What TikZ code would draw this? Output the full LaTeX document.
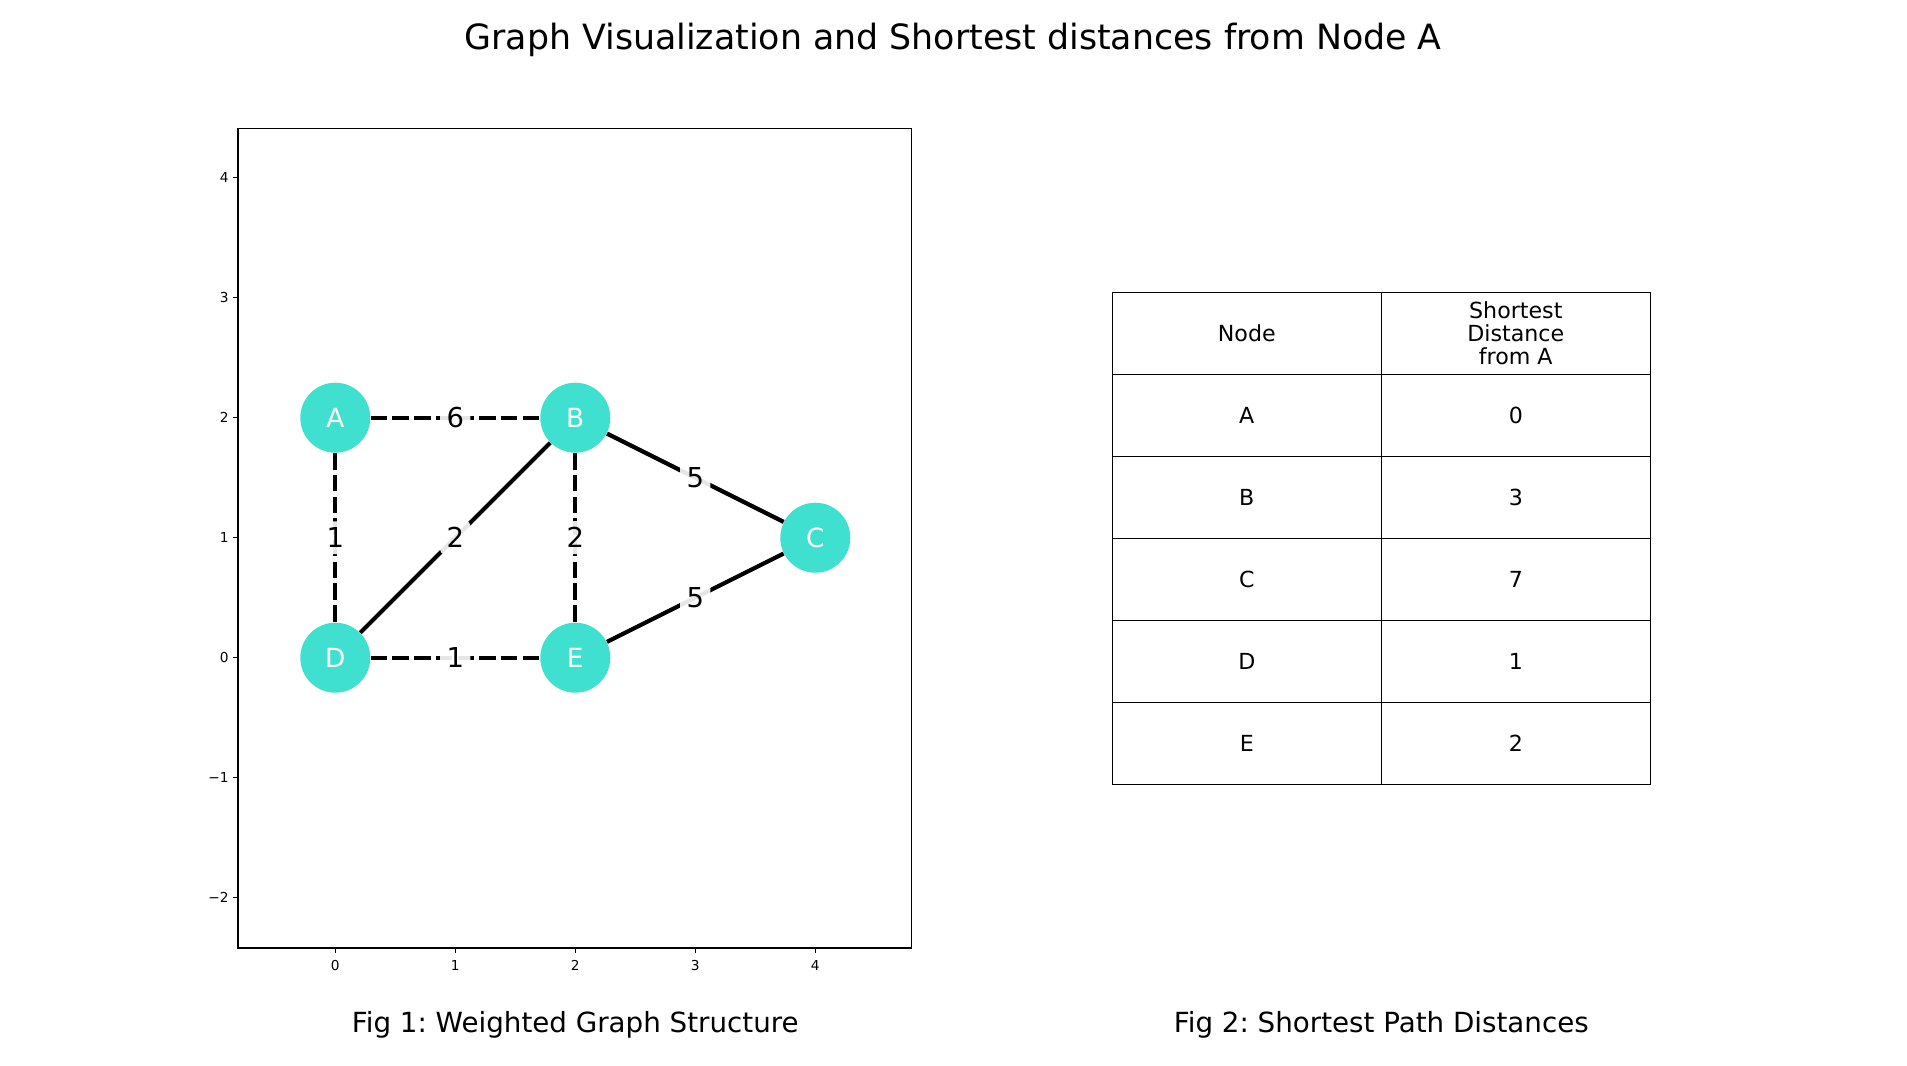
\documentclass[tikz,border=0pt]{standalone}
\usepackage{fontspec}
\setmainfont{DejaVu Sans}
\usepackage{tkz-euclide}
\definecolor{turq}{HTML}{40E0D0}
\frenchspacing

\tikzset{
  vertex/.style={circle, fill=turq, minimum size=1.167cm, inner sep=0pt,
    text=white, font=\fontsize{12.5}{14}\selectfont},
  edgeline/.style={line width=2pt, black},
  dashedge/.style={edgeline, dash pattern=on 7.8pt off 2.5pt},
  wlabel/.style={fill=white, fill opacity=0.9, text opacity=1, rounded corners=2pt,
    inner sep=3pt, font=\fontsize{13}{15}\selectfont},
  axisframe/.style={line width=0.6pt, black},
  ticklab/.style={font=\fontsize{6.5}{8}\selectfont, inner sep=0pt},
  cell/.style={draw, line width=0.6pt, minimum width=4.483cm, minimum height=1.367cm,
    inner sep=0pt, align=center, font=\fontsize{10.5}{11}\selectfont},
  titletext/.style={font=\fontsize{16.5}{19}\selectfont, anchor=base},
  captext/.style={font=\fontsize{13.15}{16}\selectfont, anchor=base}
}

\begin{document}
\begin{tikzpicture}[x=2cm, y=2cm]
    \useasboundingbox (-2.794,-3.394) rectangle (13.0975,5.481);
    \node[titletext] (title) at (5.148,5.072) {Graph Visualization and Shortest distances from Node A};
    % Fig 1: axes
    \draw[axisframe] (-0.81,-2.42) rectangle (4.8,4.41);
    \foreach \x in {0,...,4} {
      \draw[axisframe] (\x,-2.42) -- ++(0,-0.0417);
      \node[ticklab] (xt\x) at (\x,-2.561) {\x};
    }
    \foreach \y/\t [count=\k] in {-2/−2, -1/−1, 0/0, 1/1, 2/2, 3/3, 4/4} {
      \draw[axisframe] (-0.81,\y) -- ++(-0.0417,0);
      \node[ticklab, anchor=east] (yt\k) at (-0.886,\y) {\t};
    }
    % Fig 1: graph
    \tkzDefPoints{0/2/A, 2/2/B, 4/1/C, 0/0/D, 2/0/E}
    \foreach \p in {A,B,C,D,E} \node[vertex] (n\p) at (\p) {\p};
    \draw[dashedge] (nA) -- node[wlabel] (wAB) {6} (nB);
    \draw[dashedge] (nA) -- node[wlabel] (wAD) {1} (nD);
    \draw[dashedge] (nB) -- node[wlabel] (wBE) {2} (nE);
    \draw[dashedge] (nD) -- node[wlabel] (wDE) {1} (nE);
    \draw[edgeline] (nD) -- node[wlabel] (wDB) {2} (nB);
    \draw[edgeline] (nB) -- node[wlabel] (wBC) {5} (nC);
    \draw[edgeline] (nE) -- node[wlabel] (wEC) {5} (nC);
    \node[captext] (cap1) at (2,-3.1225) {Fig 1: Weighted Graph Structure};
    % Fig 2: table
    \node[cell] (hNode) at (7.596,2.703) {Node};
    \node[cell] (hDist) at (9.8375,2.703) {Shortest\\Distance\\from A};
    \foreach \n/\d [count=\i] in {A/0, B/3, C/7, D/1, E/2} {
      \node[cell] (k\n) at (7.596,2.703-0.6833*\i) {\n};
      \node[cell] (v\n) at (9.8375,2.703-0.6833*\i) {\d};
    }
    \node[captext] (cap2) at (8.717,-3.1225) {Fig 2: Shortest Path Distances};
\end{tikzpicture}
\end{document}
